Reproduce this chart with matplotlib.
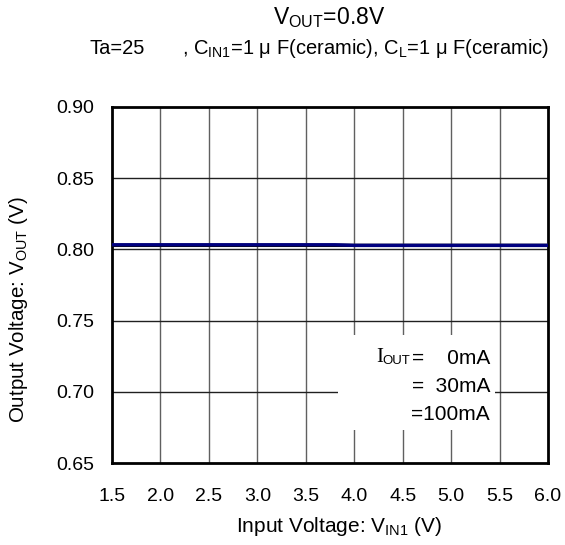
import matplotlib
matplotlib.use("Agg")
import matplotlib.pyplot as plt
from matplotlib.patches import Rectangle

plt.rcParams["font.family"] = ["Liberation Sans", "DejaVu Sans"]
plt.rcParams["mathtext.fontset"] = "custom"
plt.rcParams["mathtext.rm"] = "Liberation Sans"

# data
vin = [1.5, 2.0, 2.5, 3.0, 3.5, 3.8, 4.0, 4.5, 5.0, 5.5, 6.0]
vout_0ma = [0.8031, 0.8031, 0.8031, 0.8031, 0.8031, 0.8031, 0.8031, 0.8031, 0.8031, 0.8031, 0.8031]
vout_30ma = [0.8032, 0.8032, 0.8032, 0.8032, 0.8032, 0.8032, 0.8031, 0.8031, 0.8031, 0.8031, 0.8031]
vout_100ma = [0.8033, 0.8033, 0.8033, 0.8033, 0.8033, 0.8033, 0.8027, 0.8027, 0.8027, 0.8027, 0.8027]

x_ticks = [1.5, 2.0, 2.5, 3.0, 3.5, 4.0, 4.5, 5.0, 5.5, 6.0]
y_ticks = [0.65, 0.70, 0.75, 0.80, 0.85, 0.90]
legend_lines = ["=    0mA", "=  30mA", "=100mA"]

W, H = 565, 545
fig = plt.figure(figsize=(W / 100, H / 100), dpi=100)
ax = fig.add_axes([112 / W, 1 - 463 / H, (548 - 112) / W, (463 - 107) / H])

ax.set_xlim(1.5, 6.0)
ax.set_ylim(0.65, 0.90)
ax.set_xticks(x_ticks)
ax.set_xticklabels([f"{v:.1f}" for v in x_ticks])
ax.set_yticks(y_ticks)
ax.set_yticklabels([f"{v:.2f}" for v in y_ticks])
ax.tick_params(length=0, labelsize=14)
ax.tick_params(axis="x", pad=18)
ax.tick_params(axis="y", pad=13)

for v in x_ticks[1:-1]:
    ax.axvline(v, color="#606060", lw=1.0, zorder=1)
for v in y_ticks[1:-1]:
    ax.axhline(v, color="#202020", lw=1.0, zorder=1)

for s in ax.spines.values():
    s.set_linewidth(2.0)
    s.set_color("black")

# white box behind the legend text
ax.add_patch(Rectangle((338 / W, 1 - 430 / H), (495 - 338) / W, (430 - 335) / H,
                       transform=fig.transFigure, facecolor="white", edgecolor="none", zorder=2))

ax.plot(vin, vout_0ma, color="black", lw=2.2, zorder=3)
ax.plot(vin, vout_30ma, color="#1a1a60", lw=2.2, zorder=3)
ax.plot(vin, vout_100ma, color="#000080", lw=2.2, zorder=4)

# legend text (no line samples visible in the original)
fig.text(376 / W, 1 - 358 / H, "I", ha="left", va="center", fontsize=15,
         family="Liberation Serif", zorder=5)
fig.text(382 / W, 1 - 361 / H, "OUT", ha="left", va="center", fontsize=9.5, zorder=5)
fig.text(490 / W, 1 - 358 / H, legend_lines[0], ha="right", va="center", fontsize=15, zorder=5)
fig.text(490 / W, 1 - 387 / H, legend_lines[1], ha="right", va="center", fontsize=15, zorder=5)
fig.text(490 / W, 1 - 415 / H, legend_lines[2], ha="right", va="center", fontsize=15, zorder=5)

fig.text(329 / W, 1 - 18 / H, r"V$_{\mathrm{OUT}}$=0.8V", ha="center", va="center", fontsize=16.5)
fig.text(90 / W, 1 - 48 / H, "Ta=25", ha="left", va="center", fontsize=14.5)
fig.text(182 / W, 1 - 48 / H, r", C$_{\mathrm{IN1}}$=1 μ F(ceramic), C$_{\mathrm{L}}$=1 μ F(ceramic)",
         ha="left", va="center", fontsize=14.5)
fig.text(19 / W, 1 - 310 / H, r"Output Voltage: V$_{\mathrm{OUT}}$ (V)", ha="center", va="center",
         rotation=90, fontsize=14.8)
fig.text(339 / W, 1 - 527 / H, r"Input Voltage: V$_{\mathrm{IN1}}$ (V)", ha="center", va="center",
         fontsize=15)

fig.savefig("out.png", dpi=100)
